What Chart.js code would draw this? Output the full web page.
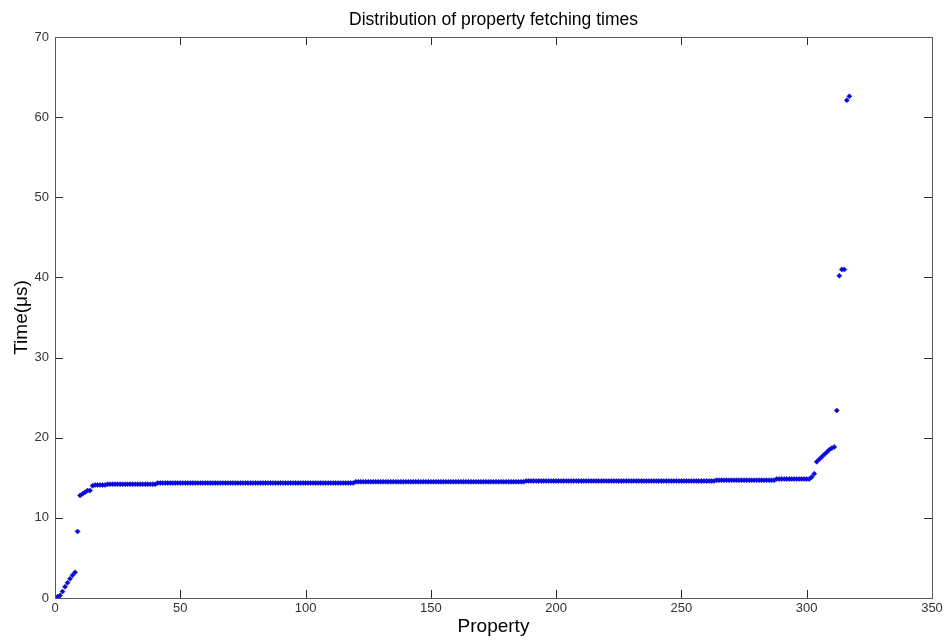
<!DOCTYPE html>
<html>
<head>
<meta charset="utf-8">
<script src="https://cdn.jsdelivr.net/npm/chart.js@4/dist/chart.umd.min.js"></script>
<style>
  html, body { margin: 0; padding: 0; background: #ffffff; }
  #wrap { width: 944px; height: 640px; }
</style>
</head>
<body>
<div id="wrap"><canvas id="chart" width="944" height="640"></canvas></div>
<script>
// Fetching time (µs) for each property, sorted ascending; property index = position + 1.
const rampTimes = [0.15, 0.3, 0.8, 1.4, 1.9, 2.4, 2.85, 3.2, 8.3, 12.8, 13.0, 13.2, 13.4, 13.4, 14.0];

const plateauTimes = [
  14.1, 14.1, 14.1, 14.1, 14.1,
  14.2, 14.2, 14.2, 14.2, 14.2, 14.2, 14.2, 14.2, 14.2, 14.2,
  14.2, 14.2, 14.2, 14.2, 14.2, 14.2, 14.2, 14.2, 14.2, 14.2,
  14.35, 14.35, 14.35, 14.35, 14.35, 14.35, 14.35, 14.35, 14.35, 14.35,
  14.35, 14.35, 14.35, 14.35, 14.35, 14.35, 14.35, 14.35, 14.35, 14.35,
  14.35, 14.35, 14.35, 14.35, 14.35, 14.35, 14.35, 14.35, 14.35, 14.35,
  14.35, 14.35, 14.35, 14.35, 14.35, 14.35, 14.35, 14.35, 14.35, 14.35,
  14.35, 14.35, 14.35, 14.35, 14.35, 14.35, 14.35, 14.35, 14.35, 14.35,
  14.35, 14.35, 14.35, 14.35, 14.35, 14.35, 14.35, 14.35, 14.35, 14.35,
  14.35, 14.35, 14.35, 14.35, 14.35, 14.35, 14.35, 14.35, 14.35, 14.35,
  14.35, 14.35, 14.35, 14.35, 14.35, 14.35, 14.35, 14.35, 14.35,
  14.5, 14.5, 14.5, 14.5, 14.5, 14.5, 14.5, 14.5, 14.5, 14.5,
  14.5, 14.5, 14.5, 14.5, 14.5, 14.5, 14.5, 14.5, 14.5, 14.5,
  14.5, 14.5, 14.5, 14.5, 14.5, 14.5, 14.5, 14.5, 14.5, 14.5,
  14.5, 14.5, 14.5, 14.5, 14.5, 14.5, 14.5, 14.5, 14.5, 14.5,
  14.5, 14.5, 14.5, 14.5, 14.5, 14.5, 14.5, 14.5, 14.5, 14.5,
  14.5, 14.5, 14.5, 14.5, 14.5, 14.5, 14.5, 14.5, 14.5, 14.5,
  14.5, 14.5, 14.5, 14.5, 14.5, 14.5, 14.5, 14.5,
  14.6, 14.6, 14.6, 14.6, 14.6, 14.6, 14.6, 14.6, 14.6, 14.6,
  14.6, 14.6, 14.6, 14.6, 14.6, 14.6, 14.6, 14.6, 14.6, 14.6,
  14.6, 14.6, 14.6, 14.6, 14.6, 14.6, 14.6, 14.6, 14.6, 14.6,
  14.6, 14.6, 14.6, 14.6, 14.6, 14.6, 14.6, 14.6, 14.6, 14.6,
  14.6, 14.6, 14.6, 14.6, 14.6, 14.6, 14.6, 14.6, 14.6, 14.6,
  14.6, 14.6, 14.6, 14.6, 14.6, 14.6, 14.6, 14.6, 14.6, 14.6,
  14.6, 14.6, 14.6, 14.6, 14.6, 14.6, 14.6, 14.6, 14.6, 14.6,
  14.6, 14.6, 14.6, 14.6, 14.6, 14.6,
  14.7, 14.7, 14.7, 14.7, 14.7, 14.7, 14.7, 14.7, 14.7, 14.7,
  14.7, 14.7, 14.7, 14.7, 14.7, 14.7, 14.7, 14.7, 14.7, 14.7,
  14.7, 14.7, 14.7, 14.7,
  14.85, 14.85, 14.85, 14.85, 14.85, 14.85, 14.85, 14.85, 14.85, 14.85,
  14.85, 14.85, 14.85, 14.85
];

const tailTimes = [15.1, 15.5, 17.0, 17.3, 17.6, 17.9, 18.2, 18.5, 18.7, 18.85, 23.4, 40.2, 41.0, 41.0, 62.1, 62.6];

const xTickValues = [0, 50, 100, 150, 200, 250, 300, 350];
const yTickValues = [0, 10, 20, 30, 40, 50, 60, 70];

const chartTitle = 'Distribution of property fetching times';
const xTitle = 'Property';
const yTitle = 'Time(\u03bcs)';

const allTimes = rampTimes.concat(plateauTimes, tailTimes);
const points = allTimes.map((t, i) => ({ x: i + 1, y: t }));

const FONT = "'Liberation Sans', Arial, sans-serif";
const FRAME_COLOR = '#5a5a5a';
const TICK_COLOR = '#2a2a2a';

// Axes box with inward tick marks on all four sides.
const boxTicks = {
  id: 'boxTicks',
  afterDraw(chart) {
    const { ctx, chartArea: a, scales: { x, y } } = chart;
    const len = 8;
    ctx.save();
    ctx.lineWidth = 1;
    ctx.strokeStyle = TICK_COLOR;
    ctx.beginPath();
    x.ticks.forEach(t => {
      const px = Math.round(x.getPixelForValue(t.value)) + 0.5;
      ctx.moveTo(px, a.bottom); ctx.lineTo(px, a.bottom - len);
      ctx.moveTo(px, a.top); ctx.lineTo(px, a.top + len);
    });
    y.ticks.forEach(t => {
      const py = Math.round(y.getPixelForValue(t.value)) + 0.5;
      ctx.moveTo(a.left, py); ctx.lineTo(a.left + len, py);
      ctx.moveTo(a.right, py); ctx.lineTo(a.right - len, py);
    });
    ctx.stroke();
    ctx.strokeStyle = FRAME_COLOR;
    ctx.strokeRect(Math.round(a.left) + 0.5, Math.round(a.top) + 0.5,
                   Math.round(a.right - a.left), Math.round(a.bottom - a.top));
    ctx.restore();
  }
};

new Chart(document.getElementById('chart'), {
  type: 'scatter',
  data: {
    datasets: [{
      data: points,
      pointStyle: 'rectRot',
      pointRadius: 2.5,
      pointBackgroundColor: '#0808e0',
      pointBorderColor: '#0c0cd0',
      pointBorderWidth: 0.6,
      showLine: false
    }]
  },
  plugins: [boxTicks],
  options: {
    responsive: false,
    devicePixelRatio: 1,
    animation: false,
    layout: { padding: { left: 0, right: 12, top: 0, bottom: 0 } },
    plugins: {
      legend: { display: false },
      tooltip: { enabled: false },
      title: {
        display: true,
        fullSize: false,
        text: chartTitle,
        color: '#000000',
        font: { family: FONT, size: 17.5, weight: 'normal', lineHeight: 1.2 },
        padding: { top: 10, bottom: 6 }
      }
    },
    scales: {
      x: {
        type: 'linear',
        min: 0,
        max: 350,
        afterFit: s => { s.height = 42; s.paddingLeft = 0; s.paddingRight = 0; },
        afterBuildTicks: s => { s.ticks = xTickValues.map(v => ({ value: v })); },
        grid: { display: false, drawTicks: false },
        border: { display: false },
        ticks: { color: '#333333', padding: 3, font: { family: FONT, size: 13 }, maxRotation: 0 },
        title: {
          display: true,
          text: xTitle,
          color: '#000000',
          font: { family: FONT, size: 19 },
          padding: { top: 0, bottom: 2 }
        }
      },
      y: {
        type: 'linear',
        min: 0,
        max: 70,
        afterFit: s => { s.width = 55; s.paddingTop = 0; s.paddingBottom = 0; },
        afterBuildTicks: s => { s.ticks = yTickValues.map(v => ({ value: v })); },
        grid: { display: false, drawTicks: false },
        border: { display: false },
        ticks: { color: '#333333', padding: 6, font: { family: FONT, size: 13 } },
        title: {
          display: true,
          text: yTitle,
          color: '#000000',
          font: { family: FONT, size: 19 },
          padding: { top: 10, bottom: 0 }
        }
      }
    }
  }
});
</script>
</body>
</html>
